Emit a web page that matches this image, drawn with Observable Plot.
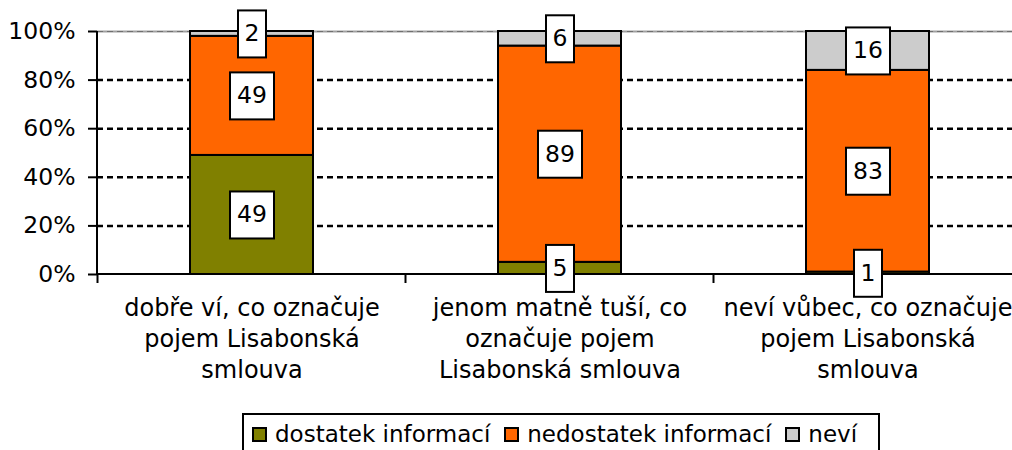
<!DOCTYPE html>
<html><head><meta charset="utf-8">
<script src="https://cdn.jsdelivr.net/npm/d3@7"></script>
<script src="https://cdn.jsdelivr.net/npm/@observablehq/plot@0.6"></script>
<style>
body{margin:0;background:#fff;font-family:"DejaVu Sans",Verdana,sans-serif;}
#wrap{position:relative;width:1012px;height:450px;overflow:hidden;background:#fff;}
#chart{position:absolute;left:0;top:0;}
#legend{position:absolute;left:242px;top:413px;width:626px;border:2px solid #000;padding:6px 0 10px 8px;display:flex;align-items:center;font-size:23px;white-space:nowrap;color:#000;}
.sw{display:inline-block;width:11px;height:11px;border:2px solid #000;margin-right:8px;}
.item{display:flex;align-items:center;margin-right:14px;}
</style></head><body>
<div id="wrap"><div id="chart"></div><div id="legend"></div></div>
<script>
const categories = [
  "dobře ví, co označuje\npojem Lisabonská\nsmlouva",
  "jenom matně tuší, co\noznačuje pojem\nLisabonská smlouva",
  "neví vůbec, co označuje\npojem Lisabonská\nsmlouva"
];
const series = ["dostatek informací", "nedostatek informací", "neví"];
const dostatek = [49, 5, 1];
const nedostatek = [49, 89, 83];
const nevi = [2, 6, 16];
const colors = ["#808000", "#FF6600", "#CCCCCC"];
const yTicks = [0, 20, 40, 60, 80, 100];
const gridTicks = [20, 40, 60, 80];

const seriesValues = [dostatek, nedostatek, nevi];
const data = series.flatMap((s, si) => categories.map((c, ci) => ({cat: c, series: s, value: seriesValues[si][ci]})));

const H = 412;
const axisY0 = 274;
const FS = 23.5;

function num(v) { return (v && /^-?[\d.]+$/.test(v.trim())) ? parseFloat(v) : 0; }

function boxed(index, scales, values, dims, ctx, next) {
  const g = next(index, scales, values, dims, ctx);
  g.querySelectorAll("text").forEach(t => {
    const len = t.textContent.length;
    const w = 12 + 16 * len, h = 47;
    const r = document.createElementNS("http://www.w3.org/2000/svg", "rect");
    const tr = t.getAttribute("transform");
    if (tr) r.setAttribute("transform", tr);
    const tx = num(t.getAttribute("x")), ty = num(t.getAttribute("y"));
    r.setAttribute("x", tx - w / 2);
    r.setAttribute("y", ty - h / 2);
    r.setAttribute("width", w);
    r.setAttribute("height", h);
    r.setAttribute("fill", "#fff");
    r.setAttribute("stroke", "#000");
    r.setAttribute("stroke-width", 2);
    t.parentNode.insertBefore(r, t);
  });
  return g;
}

function frameLines(index, scales, values, dims) {
  const g = d3.create("svg:g").attr("stroke", "#000").attr("stroke-width", 2);
  const x0 = dims.marginLeft, y0 = dims.height - dims.marginBottom, yTop = dims.marginTop;
  g.append("line").attr("x1", x0).attr("x2", x0).attr("y1", yTop).attr("y2", y0);
  g.append("line").attr("x1", x0).attr("x2", dims.width).attr("y1", y0).attr("y2", y0);
  const xs = categories.map(c => scales.x(c));
  const step = xs[1] - xs[0];
  const bw = typeof scales.x.bandwidth === "function" ? scales.x.bandwidth() : step * 0.4;
  xs.forEach(x => {
    const b = x + bw / 2 - step / 2;
    g.append("line").attr("x1", b).attr("x2", b).attr("y1", y0).attr("y2", y0 + 9);
  });
  return g.node();
}

const chart = Plot.plot({
  width: 1012,
  height: H,
  marginTop: 31,
  marginBottom: H - axisY0,
  marginLeft: 97,
  marginRight: -10,
  style: {fontFamily: "DejaVu Sans, Verdana, sans-serif", fontSize: FS + "px", color: "#000", background: "transparent", overflow: "visible"},
  x: {domain: categories, paddingInner: 0.6, paddingOuter: 0.3, label: null},
  y: {domain: [0, 100], label: null},
  color: {domain: series, range: colors},
  marks: [
    Plot.ruleY(gridTicks, {stroke: "#000", strokeWidth: 2.5, strokeDasharray: "6,4"}),
    Plot.ruleY([100], {stroke: "#a0a0a0", strokeWidth: 2}),
    Plot.ruleY([100], {stroke: "#707070", strokeWidth: 1, strokeDasharray: "6,4"}),
    Plot.barY(data, {x: "cat", y: "value", fill: "series", stroke: "#000", strokeWidth: 2}),
    Plot.axisY({ticks: yTicks, tickFormat: d => d + "%", tickSize: 9, tickPadding: 13, strokeWidth: 2, fontSize: FS, label: null}),
    Plot.axisX({tickSize: 0, tickPadding: 20, lineHeight: 1.29, fontSize: 24, label: null}),
    frameLines,
    Plot.text(data, Plot.stackY({x: "cat", y: "value", text: d => String(d.value), fontSize: FS, fill: "#000", render: boxed}))
  ]
});
document.getElementById("chart").appendChild(chart);

const legend = document.getElementById("legend");
series.forEach((s, i) => {
  const item = document.createElement("div");
  item.className = "item";
  const sw = document.createElement("span");
  sw.className = "sw";
  sw.style.background = colors[i];
  const tx = document.createElement("span");
  tx.textContent = s;
  item.appendChild(sw);
  item.appendChild(tx);
  legend.appendChild(item);
});
</script>
</body></html>
